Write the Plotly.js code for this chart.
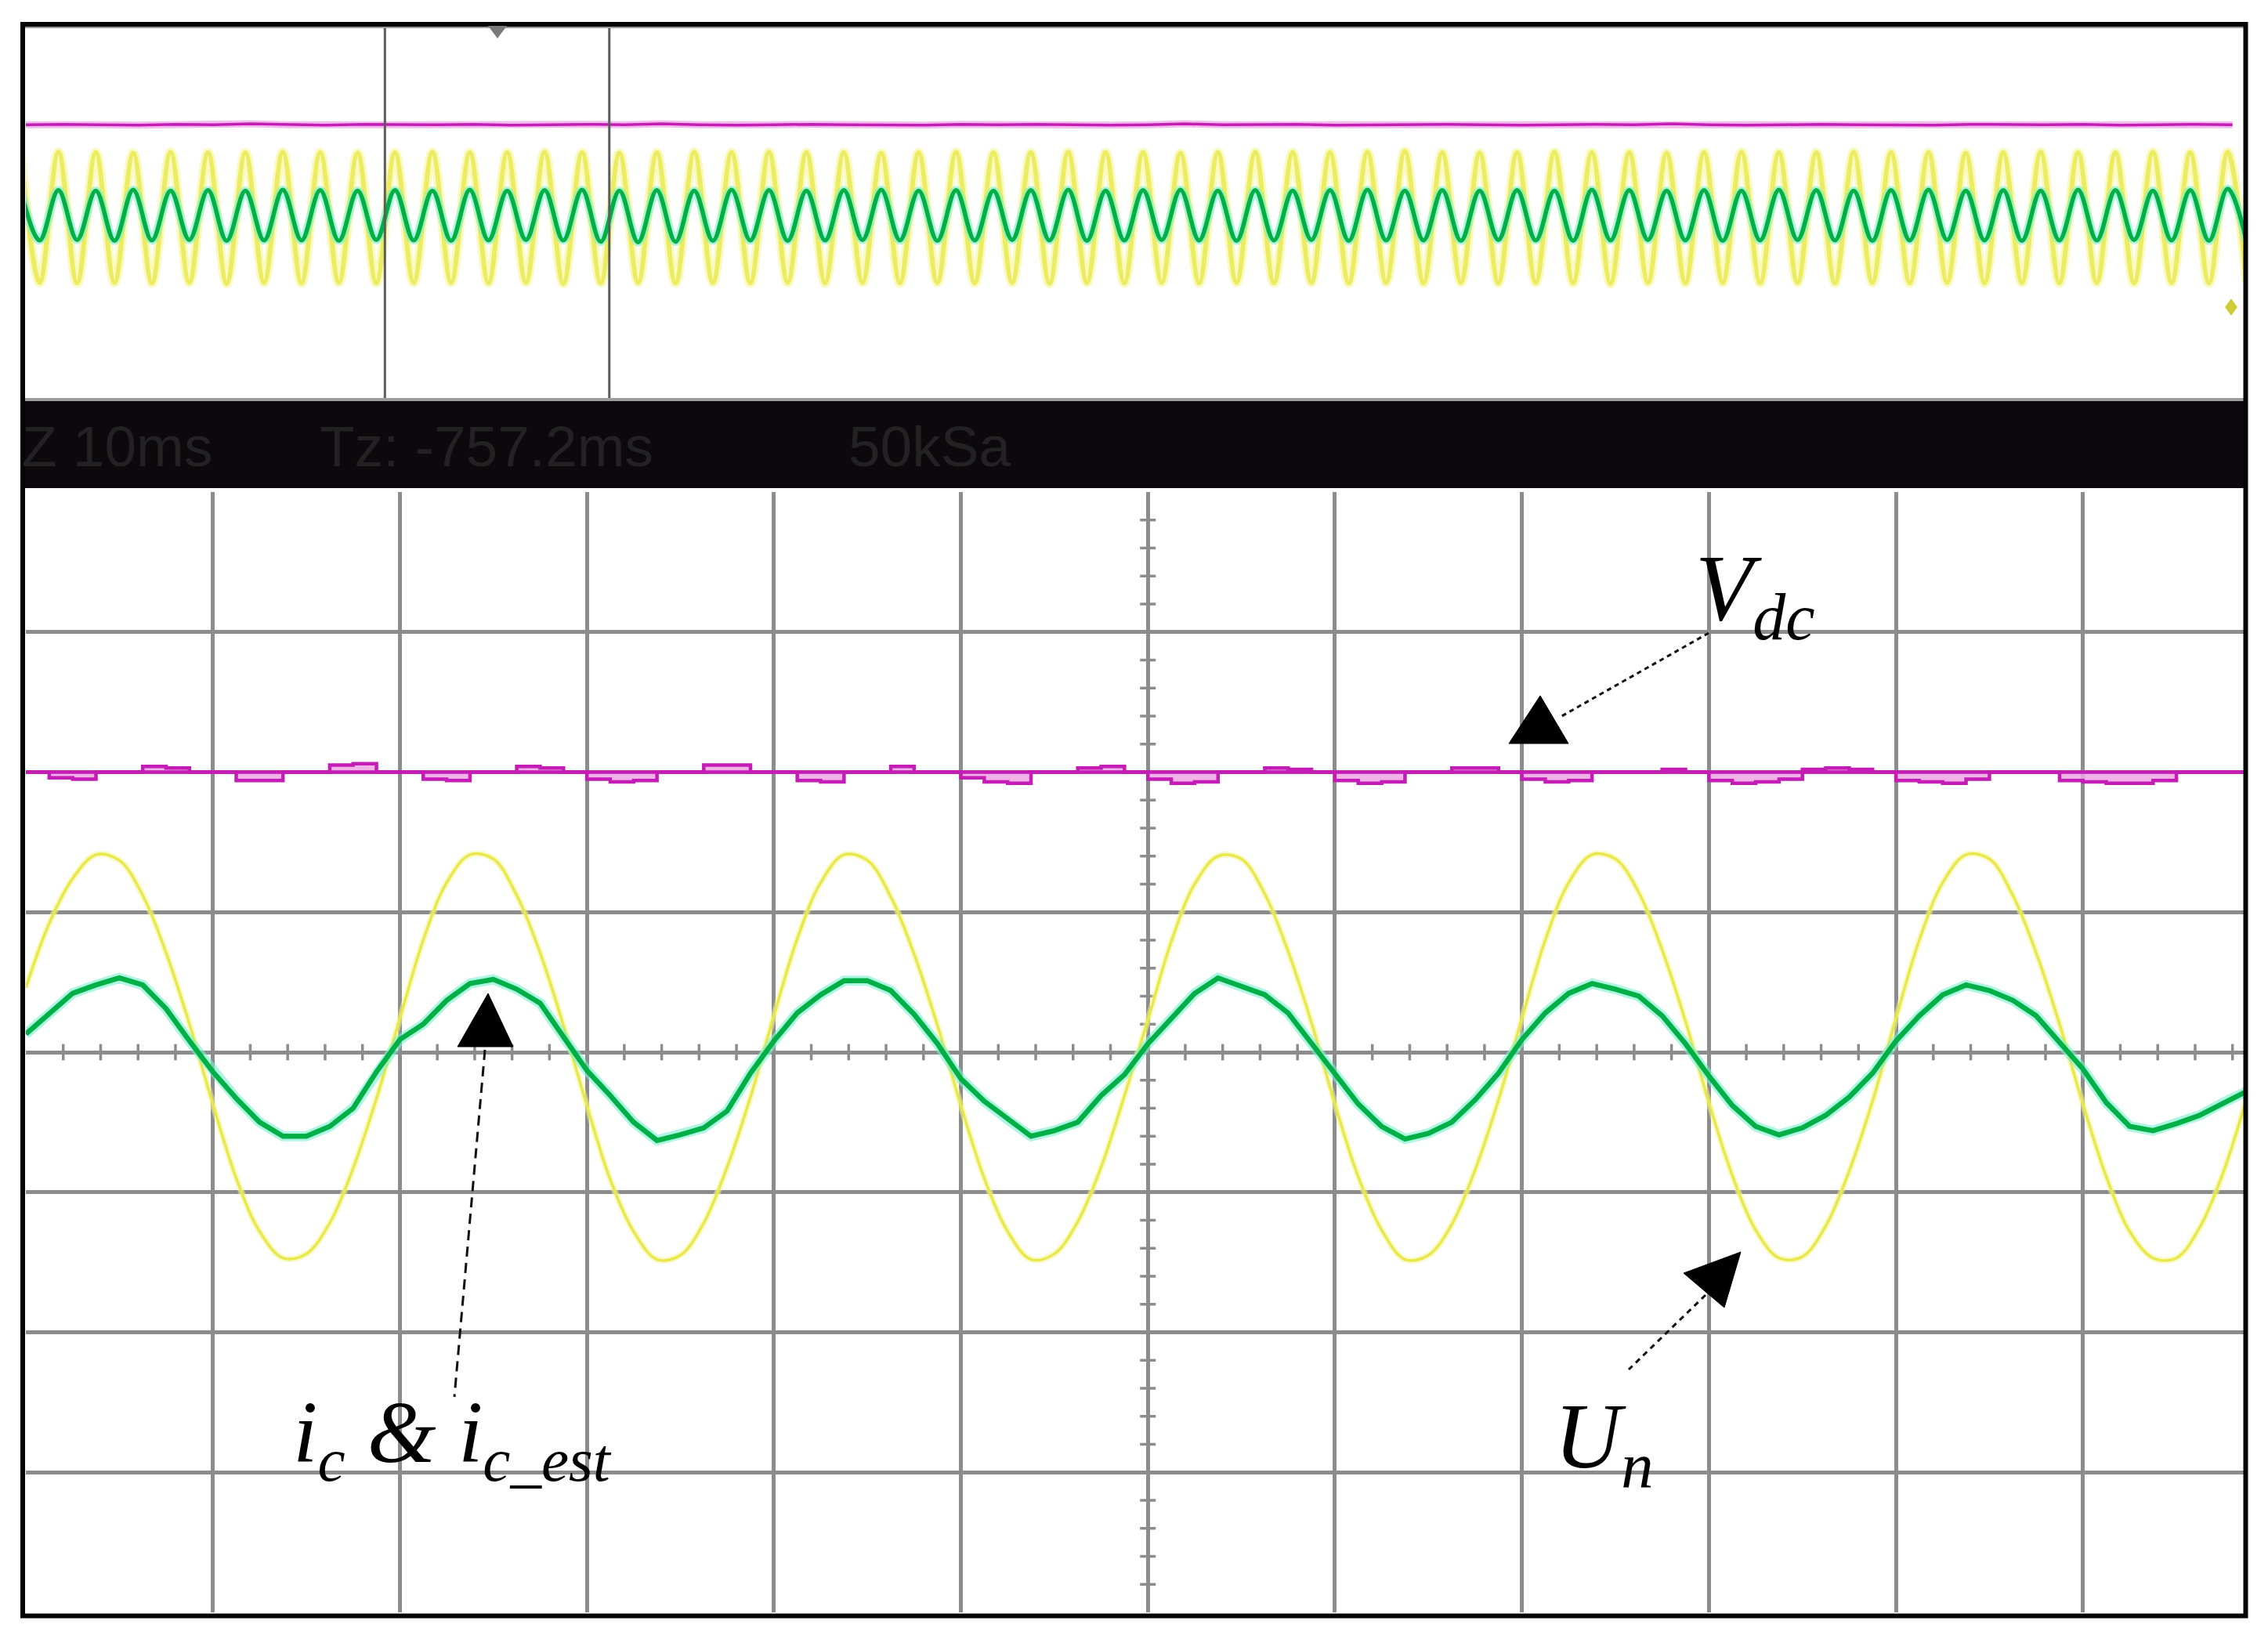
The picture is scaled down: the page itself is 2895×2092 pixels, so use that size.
<!DOCTYPE html>
<html><head><meta charset="utf-8">
<script src="https://cdn.plot.ly/plotly-3.0.1.min.js"></script>
<style>html,body{margin:0;padding:0;background:#fff;overflow:hidden}#chart{width:2895px;height:2092px}</style>
</head><body><div id="chart"></div>
<script>
// ---------------- DATA (vertical unit = divisions) ----------------
// Zoomed view (bottom): 10 ms/div, samples every 1.25 ms starting at 0 ms
const zoomStartMs = 0;
const zoomStepMs = 1.25;
const zoomSpanMs = 118.64;           // visible width (11.86 div)
// U_n (yellow)
const unZoom = [
  0.46,0.92,1.24,1.41,1.37,1.12,0.71,0.20,-0.37,-0.90,-1.28,-1.47,-1.44,-1.22,-0.83,-0.33,
  0.24,0.80,1.21,1.41,1.38,1.12,0.71,0.19,-0.38,-0.91,-1.28,-1.48,-1.45,-1.22,-0.82,-0.32,
  0.26,0.81,1.21,1.41,1.37,1.11,0.70,0.19,-0.38,-0.90,-1.28,-1.48,-1.44,-1.21,-0.82,-0.31,
  0.23,0.79,1.20,1.40,1.38,1.13,0.72,0.21,-0.37,-0.89,-1.27,-1.48,-1.45,-1.23,-0.84,-0.34,
  0.24,0.80,1.21,1.41,1.38,1.14,0.73,0.22,-0.36,-0.88,-1.27,-1.47,-1.46,-1.24,-0.85,-0.35,
  0.24,0.80,1.21,1.41,1.38,1.12,0.71,0.20,-0.37,-0.89,-1.28,-1.47,-1.47,-1.25,-0.86,-0.33
];
// i_c & i_c_est (green)
const icZoom = [
  0.13,0.28,0.42,0.48,0.53,0.48,0.31,0.08,-0.14,-0.33,-0.50,-0.60,-0.60,-0.53,-0.40,-0.14,
  0.09,0.20,0.37,0.49,0.52,0.45,0.35,0.11,-0.13,-0.31,-0.50,-0.63,-0.59,-0.54,-0.42,-0.15,
  0.08,0.28,0.41,0.51,0.51,0.44,0.27,0.06,-0.19,-0.35,-0.48,-0.60,-0.56,-0.50,-0.31,-0.16,
  0.06,0.24,0.42,0.53,0.47,0.41,0.28,0.06,-0.15,-0.37,-0.53,-0.62,-0.58,-0.50,-0.34,-0.15,
  0.09,0.28,0.42,0.49,0.45,0.40,0.26,0.06,-0.17,-0.38,-0.53,-0.59,-0.54,-0.45,-0.32,-0.15,
  0.08,0.26,0.41,0.48,0.44,0.37,0.26,0.07,-0.12,-0.36,-0.53,-0.56,-0.51,-0.45,-0.36,-0.28
];
// V_dc (magenta) upper and lower envelope
const vdcZoomUpper = [
  2,2,2,2,2,2.04,2.03,2,  2,2,2,2,2,2.05,2.06,2,  2,2,2,2,2,2.04,2.03,2,  2,2,2,2,2,2.05,2.05,2,
  2,2,2,2,2,2.04,2,2,     2,2,2,2,2,2.03,2.04,2,  2,2,2,2,2,2.03,2.02,2,  2,2,2,2,2,2.03,2.03,2,
  2,2,2,2,2,2,2.02,2,     2,2,2,2,2.02,2.03,2.02,2, 2,2,2,2,2,2,2,2,      2,2,2,2,2,2,2,2
];
const vdcZoomLower = [
  2,1.96,1.95,2,2,2,2,2,     2,1.94,1.94,2,2,2,2,2,     2,1.95,1.94,2,2,2,2,2,     1.95,1.93,1.94,2,2,2,2,2,
  2,1.94,1.93,2,2,2,2,2,     1.96,1.93,1.92,2,2,2,2,2,  1.95,1.92,1.93,2,2,2,2,2,  1.94,1.92,1.93,2,2,2,2,2,
  1.95,1.93,1.94,2,2,2,2,2,  1.94,1.92,1.93,1.95,2,2,2,2, 1.94,1.93,1.92,1.95,2,2,2,1.94, 1.93,1.92,1.92,1.94,2,2,2,2
];

// Overview (top): 100 ms/div, one peak / trough every 10 ms, first peak at -2.6 ms
const mainStartMs = -2.6;
const mainStepMs = 10;
const mainSpanMs = 1186.4;
const zoomWindowMs = [192, 312];      // cursor lines of the zoom window
const unMain = [
  1.32,-1.48,1.33,-1.49,1.32,-1.48,1.31,-1.49,1.33,-1.48,1.32,-1.50,1.32,-1.48,1.33,-1.49,1.32,-1.48,1.31,-1.49,
  1.32,-1.48,1.33,-1.48,1.32,-1.49,1.32,-1.48,1.33,-1.50,1.32,-1.49,1.31,-1.48,1.32,-1.49,1.33,-1.48,1.32,-1.49,
  1.33,-1.48,1.32,-1.49,1.32,-1.48,1.31,-1.49,1.32,-1.48,1.33,-1.49,1.32,-1.48,1.32,-1.50,1.33,-1.48,1.32,-1.49,
  1.32,-1.48,1.31,-1.49,1.32,-1.48,1.33,-1.49,1.32,-1.48,1.32,-1.49,1.33,-1.48,1.35,-1.49,1.32,-1.48,1.31,-1.49,
  1.32,-1.48,1.33,-1.49,1.32,-1.50,1.32,-1.48,1.31,-1.49,1.32,-1.48,1.33,-1.49,1.32,-1.48,1.32,-1.49,1.33,-1.48,
  1.32,-1.49,1.32,-1.48,1.31,-1.49,1.32,-1.48,1.33,-1.49,1.32,-1.48,1.32,-1.49,1.33,-1.48,1.32,-1.49,1.33,-1.48
];
const icMain = [
  0.50,-0.57,0.51,-0.56,0.50,-0.58,0.52,-0.57,0.50,-0.56,0.51,-0.58,0.50,-0.57,0.52,-0.57,0.51,-0.58,0.50,-0.56,
  0.51,-0.57,0.50,-0.58,0.52,-0.57,0.50,-0.56,0.51,-0.57,0.52,-0.60,0.50,-0.61,0.51,-0.60,0.50,-0.58,0.52,-0.57,
  0.51,-0.58,0.50,-0.57,0.51,-0.56,0.52,-0.57,0.50,-0.58,0.51,-0.57,0.50,-0.56,0.51,-0.57,0.52,-0.58,0.50,-0.57,
  0.51,-0.56,0.52,-0.57,0.50,-0.58,0.51,-0.57,0.50,-0.56,0.51,-0.58,0.52,-0.57,0.50,-0.57,0.51,-0.58,0.50,-0.56,
  0.51,-0.57,0.50,-0.58,0.52,-0.57,0.51,-0.56,0.50,-0.57,0.51,-0.58,0.50,-0.57,0.52,-0.56,0.51,-0.57,0.50,-0.58,
  0.51,-0.57,0.52,-0.56,0.50,-0.57,0.51,-0.58,0.50,-0.57,0.52,-0.57,0.51,-0.56,0.50,-0.57,0.51,-0.58,0.54,-0.57
];
const vdcMainStepMs = 20;
const vdcMain = [
  1.92,1.93,1.92,1.91,1.93,1.92,1.94,1.92,1.91,1.93,1.92,1.92,1.93,1.91,1.92,1.93,1.92,1.94,1.92,1.91,
  1.92,1.93,1.92,1.92,1.91,1.93,1.92,1.93,1.92,1.91,1.92,1.94,1.92,1.92,1.93,1.91,1.92,1.92,1.93,1.92,
  1.91,1.92,1.93,1.92,1.94,1.92,1.91,1.92,1.93,1.92,1.92,1.91,1.93,1.92,1.92,1.93,1.91,1.92,1.93,1.92
];

// Scope readout and labels
const readout = ["Z 10ms", "Tz: -757.2ms", "50kSa"];
const labelVdc = "<i>V<sub>dc</sub></i>";
const labelIc = "<i>i<sub>c</sub> &amp; i<sub>c_est</sub></i>";
const labelUn = "<i>U<sub>n</sub></i>";

// ---------------- STYLE / LAYOUT ----------------
const W = 2895, H = 2092;
const px = x => x / W;
const py = y => 1 - y / H;
const gridCol = '#8c8c8c';
const yellow = '#e8e84c', yellowGlow = 'rgba(246,246,150,0.55)';
const green = '#00b046', greenGlow = 'rgba(120,240,205,0.6)';
const magenta = '#c41db5', magentaFill = 'rgba(238,165,228,0.85)';

const traces = [
  // top overview
  {x0: mainStartMs, dx: mainStepMs, y: unMain, xaxis:'x2', yaxis:'y2', mode:'lines',
   line:{color:'rgba(246,246,150,0.6)', width:12, shape:'spline', smoothing:1}, hoverinfo:'skip'},
  {x0: mainStartMs, dx: mainStepMs, y: unMain, xaxis:'x2', yaxis:'y2', mode:'lines',
   line:{color:'#ecec62', width:6, shape:'spline', smoothing:1}, hoverinfo:'skip'},
  {x0: mainStartMs, dx: mainStepMs, y: icMain, xaxis:'x2', yaxis:'y2', mode:'lines',
   line:{color:greenGlow, width:11, shape:'spline', smoothing:1}, hoverinfo:'skip'},
  {x0: mainStartMs, dx: mainStepMs, y: icMain, xaxis:'x2', yaxis:'y2', mode:'lines',
   line:{color:green, width:5.5, shape:'spline', smoothing:1}, hoverinfo:'skip'},
  {x0: 0, dx: vdcMainStepMs, y: vdcMain, xaxis:'x2', yaxis:'y2', mode:'lines',
   line:{color:'rgba(240,160,230,0.7)', width:9}, hoverinfo:'skip'},
  {x0: 0, dx: vdcMainStepMs, y: vdcMain, xaxis:'x2', yaxis:'y2', mode:'lines',
   line:{color:magenta, width:3.5}, hoverinfo:'skip'},
  // bottom zoom
  {x0: zoomStartMs, dx: zoomStepMs, y: unZoom, xaxis:'x', yaxis:'y', mode:'lines',
   line:{color:yellowGlow, width:8, shape:'spline', smoothing:1}, hoverinfo:'skip'},
  {x0: zoomStartMs, dx: zoomStepMs, y: unZoom, xaxis:'x', yaxis:'y', mode:'lines',
   line:{color:yellow, width:3.5, shape:'spline', smoothing:1}, hoverinfo:'skip'},
  {x0: zoomStartMs, dx: zoomStepMs, y: icZoom, xaxis:'x', yaxis:'y', mode:'lines',
   line:{color:greenGlow, width:13}, hoverinfo:'skip'},
  {x0: zoomStartMs, dx: zoomStepMs, y: icZoom, xaxis:'x', yaxis:'y', mode:'lines',
   line:{color:green, width:6.5}, hoverinfo:'skip'},
  {x0: zoomStartMs, dx: zoomStepMs, y: vdcZoomLower, xaxis:'x', yaxis:'y', mode:'lines',
   line:{color:magenta, width:4.5, shape:'hv'}, hoverinfo:'skip'},
  {x0: zoomStartMs, dx: zoomStepMs, y: vdcZoomUpper, xaxis:'x', yaxis:'y', mode:'lines',
   fill:'tonexty', fillcolor:magentaFill,
   line:{color:magenta, width:4.5, shape:'hv'}, hoverinfo:'skip'}
];

const shapes = [];
// minor ticks on the centre cross of the zoomed graticule
for (let k = 1; k < 60; k++) {
  const t = 2 * k;
  if (t % 10 === 0) continue;
  shapes.push({type:'line', xref:'x', yref:'y', x0:t, x1:t, y0:-0.058, y1:0.058,
               line:{color:gridCol, width:3.5}, layer:'below'});
}
for (let k = -19; k <= 19; k++) {
  if (k % 5 === 0) continue;
  const v = k / 5;
  shapes.push({type:'line', xref:'x', yref:'y', x0:59.58, x1:60.42, y0:v, y1:v,
               line:{color:gridCol, width:3.5}, layer:'below'});
}
// zoom-window cursors in the overview
zoomWindowMs.forEach(t => shapes.push({type:'line', xref:'x2', yref:'y2 domain', x0:t, x1:t, y0:0, y1:1,
  line:{color:'#5c5c5c', width:3}}));
// readout band
shapes.push({type:'rect', xref:'paper', yref:'paper', x0:px(26), x1:px(2869), y0:py(623), y1:py(512),
  fillcolor:'#0d080c', line:{width:0}});
shapes.push({type:'line', xref:'paper', yref:'paper', x0:px(30), x1:px(2866), y0:py(510), y1:py(510),
  line:{color:'#9c9c9c', width:4}});
// top border of the overview
shapes.push({type:'line', xref:'paper', yref:'paper', x0:px(26), x1:px(2869), y0:py(34.5), y1:py(34.5),
  line:{color:'#9a9a9a', width:3}});
// outer frame
shapes.push({type:'rect', xref:'paper', yref:'paper', x0:px(29), x1:px(2866.5), y0:py(2062.5), y1:py(31),
  line:{color:'#050505', width:6}});
// trigger marker
shapes.push({type:'path', xref:'paper', yref:'paper',
  path:`M ${px(623)},${py(33)} L ${px(647)},${py(33)} L ${px(635)},${py(49)} Z`,
  fillcolor:'#7a7a7a', line:{width:0}});
// yellow channel marker on the overview
shapes.push({type:'path', xref:'paper', yref:'paper',
  path:`M ${px(2840)},${py(392)} L ${px(2848)},${py(381)} L ${px(2856)},${py(392)} L ${px(2848)},${py(403)} Z`,
  fillcolor:'#cfcc3c', line:{width:0}});
// label arrows
function tri(a, b, c) {
  return {type:'path', xref:'paper', yref:'paper',
    path:`M ${px(a[0])},${py(a[1])} L ${px(b[0])},${py(b[1])} L ${px(c[0])},${py(c[1])} Z`,
    fillcolor:'#000', line:{color:'#000', width:1}};
}
function dash(a, b, pattern) {
  return {type:'line', xref:'paper', yref:'paper', x0:px(a[0]), y0:py(a[1]), x1:px(b[0]), y1:py(b[1]),
    line:{color:'#111', width:3, dash:pattern}};
}
shapes.push(dash([2181, 808], [1990, 916], '6px,5px'));
shapes.push(tri([1966, 888], [1926, 949], [2002, 949]));
shapes.push(dash([619, 1340], [580, 1783], '13px,8px'));
shapes.push(tri([623, 1268], [584, 1336], [655, 1336]));
shapes.push(dash([2177, 1653], [2079, 1748], '7px,6px'));
shapes.push(tri([2222, 1598], [2149, 1625], [2201, 1669]));

const bandFont = {family:'Liberation Sans, Arial, sans-serif', size:73, color:'#222222'};
const serif = 'Liberation Serif, Times New Roman, serif';
const annotations = [
  {text: readout[0], xref:'paper', yref:'paper', x:px(26), y:py(569), xanchor:'left', yanchor:'middle', showarrow:false, font:bandFont},
  {text: readout[1], xref:'paper', yref:'paper', x:px(406), y:py(569), xanchor:'left', yanchor:'middle', showarrow:false, font:bandFont},
  {text: readout[2], xref:'paper', yref:'paper', x:px(1081), y:py(569), xanchor:'left', yanchor:'middle', showarrow:false, font:bandFont},
  {text: labelVdc, xref:'paper', yref:'paper', x:px(2162), y:py(759), xanchor:'left', yanchor:'middle', showarrow:false,
   font:{family:serif, size:120, color:'#000'}},
  {text: labelIc, xref:'paper', yref:'paper', x:px(372), y:py(1836), xanchor:'left', yanchor:'middle', showarrow:false,
   font:{family:serif, size:113, color:'#000'}},
  {text: labelUn, xref:'paper', yref:'paper', x:px(1982), y:py(1842), xanchor:'left', yanchor:'middle', showarrow:false,
   font:{family:serif, size:118, color:'#000'}}
];

const xDom = [px(33), px(2865)];
const layout = {
  width: W, height: H, margin:{l:0, r:0, t:0, b:0}, paper_bgcolor:'#ffffff', plot_bgcolor:'#ffffff',
  showlegend:false, hovermode:false,
  xaxis:{domain:xDom, range:[zoomStartMs, zoomSpanMs], anchor:'y', showgrid:true, gridcolor:gridCol, gridwidth:5,
         tick0:0, dtick:10, zeroline:false, showticklabels:false, ticks:'', showline:false},
  yaxis:{domain:[py(2058), py(628)], range:[-4, 4], anchor:'x', showgrid:true, gridcolor:gridCol, gridwidth:5,
         tick0:0, dtick:1, zeroline:true, zerolinecolor:gridCol, zerolinewidth:5, showticklabels:false, ticks:'', showline:false},
  xaxis2:{domain:xDom, range:[0, mainSpanMs], anchor:'y2', showgrid:false, zeroline:false, showticklabels:false, ticks:'', showline:false},
  yaxis2:{domain:[py(510), py(36)], range:[-4, 4], anchor:'x2', showgrid:false, zeroline:false, showticklabels:false, ticks:'', showline:false},
  shapes: shapes,
  annotations: annotations
};

Plotly.newPlot('chart', traces, layout, {staticPlot:true, displayModeBar:false});
</script></body></html>
